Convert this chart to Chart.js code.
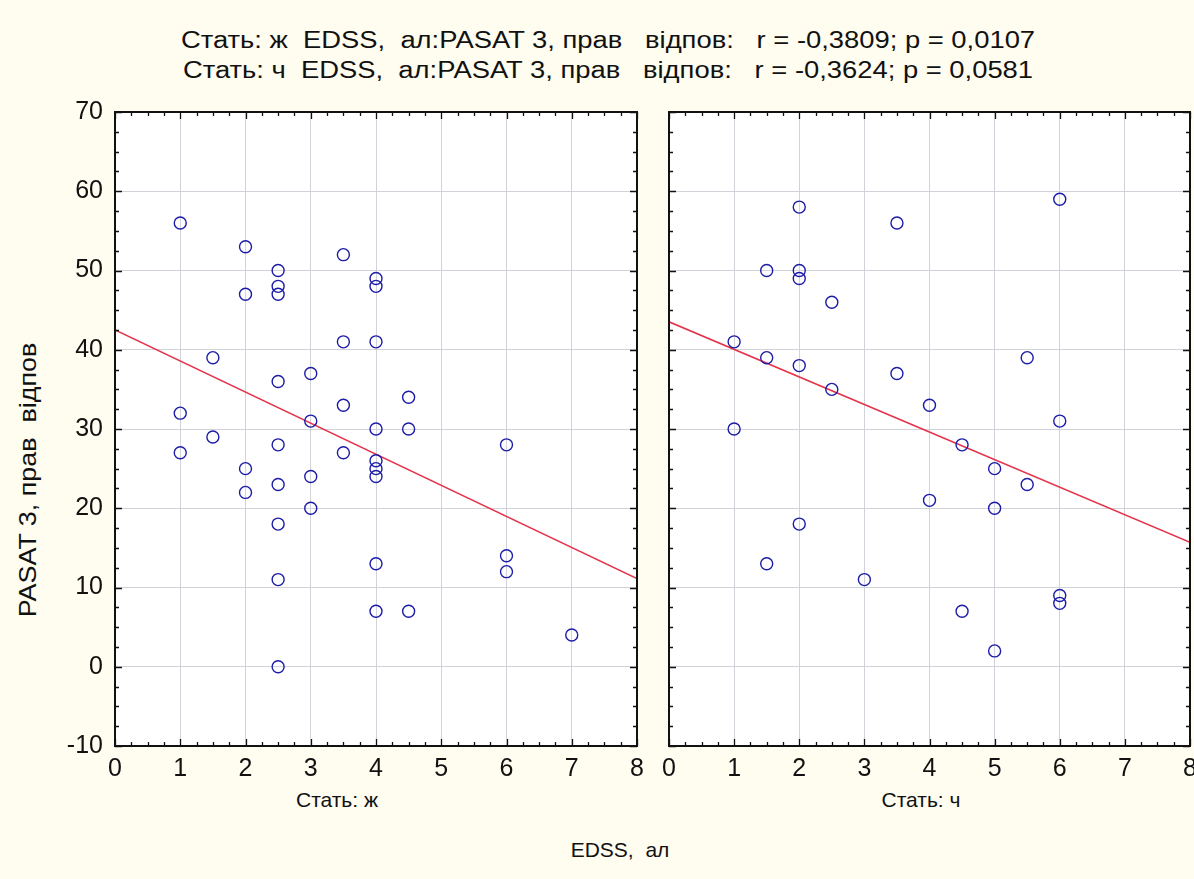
<!DOCTYPE html>
<html>
<head>
<meta charset="utf-8">
<script src="https://cdn.jsdelivr.net/npm/chart.js@4.4.0/dist/chart.umd.min.js"></script>
<style>
  body { margin: 0; width: 1194px; height: 879px; overflow: hidden; position: relative;
         background: #fffcf0; font-family: "Liberation Sans", Arial, sans-serif; color: #111; }
  .txt { position: absolute; white-space: pre; font-size: 21px; line-height: 24px; transform: translateX(-50%); }
  .head { font-size: 23px; line-height: 26px; transform: translateX(-50%) scaleX(1.19); }
  canvas { position: absolute; }
</style>
</head>
<body>
<div class="txt head" style="left:608px; top:27px;">Стать: ж  EDSS,  ал:PASAT 3, прав   відпов:   r = -0,3809; p = 0,0107</div>
<div class="txt head" style="left:608px; top:57px;">Стать: ч  EDSS,  ал:PASAT 3, прав   відпов:   r = -0,3624; p = 0,0581</div>
<div class="txt" style="left:337px; top:788px;">Стать: ж</div>
<div class="txt" style="left:921px; top:788px;">Стать: ч</div>
<div class="txt" style="left:620px; top:838px;">EDSS,  ал</div>
<div class="txt" style="left:28px; top:468px; font-size:23px; transform: translateX(-50%) rotate(-90deg) scaleX(1.17);">PASAT 3, прав  відпов</div>

<div style="position:absolute; left:0; top:100px; width:650px; height:700px;"><canvas id="left"></canvas></div>
<div style="position:absolute; left:655px; top:100px; width:560px; height:700px;"><canvas id="right"></canvas></div>

<script>
// EDSS score vs PASAT 3 correct answers, women (ж) and men (ч)
const edssF  = [1, 1, 1, 1.5, 1.5, 2, 2, 2, 2,
                2.5, 2.5, 2.5, 2.5, 2.5, 2.5, 2.5, 2.5, 2.5,
                3, 3, 3, 3, 3.5, 3.5, 3.5, 3.5,
                4, 4, 4, 4, 4, 4, 4, 4, 4,
                4.5, 4.5, 4.5, 6, 6, 6, 7];
const pasatF = [56, 32, 27, 39, 29, 53, 47, 25, 22,
                50, 48, 47, 36, 28, 23, 18, 11, 0,
                37, 31, 24, 20, 52, 41, 33, 27,
                49, 48, 41, 30, 26, 25, 24, 13, 7,
                34, 30, 7, 28, 14, 12, 4];

const edssM  = [1, 1, 1.5, 1.5, 1.5, 2, 2, 2, 2, 2,
                2.5, 2.5, 3, 3.5, 3.5, 4, 4, 4.5, 4.5,
                5, 5, 5, 5.5, 5.5, 6, 6, 6, 6];
const pasatM = [41, 30, 50, 39, 13, 58, 50, 49, 38, 18,
                46, 35, 11, 56, 37, 33, 21, 28, 7,
                25, 20, 2, 39, 23, 59, 31, 9, 8];

const xTicks = [0, 1, 2, 3, 4, 5, 6, 7, 8];
const yTicks = [-10, 0, 10, 20, 30, 40, 50, 60, 70];

// least squares line y = a + b*x
function fit(xs, ys) {
  const n = xs.length;
  const mx = xs.reduce((s, v) => s + v, 0) / n;
  const my = ys.reduce((s, v) => s + v, 0) / n;
  let sxy = 0, sxx = 0;
  for (let i = 0; i < n; i++) {
    sxy += (xs[i] - mx) * (ys[i] - my);
    sxx += (xs[i] - mx) * (xs[i] - mx);
  }
  const b = sxy / sxx;
  return { a: my - b * mx, b: b };
}

// white plot area, inward ticks on all four sides and black frame
const frame = {
  id: 'frame',
  beforeDraw(chart) {
    const { ctx, chartArea: a } = chart;
    ctx.save();
    ctx.fillStyle = '#ffffff';
    ctx.fillRect(a.left, a.top, a.width, a.height);
    ctx.restore();
  },
  afterDraw(chart) {
    const { ctx, chartArea: a, scales: { x, y } } = chart;
    ctx.save();
    ctx.strokeStyle = '#111';
    ctx.lineWidth = 1.3;
    ctx.beginPath();
    const x0 = xTicks[0], x1 = xTicks[xTicks.length - 1];
    for (let v = x0; v <= x1 + 1e-9; v += 0.25) {
      const px = Math.round(x.getPixelForValue(v)) + 0.5;
      const len = Math.abs(v - Math.round(v)) < 1e-9 ? 7 : 4;
      ctx.moveTo(px, a.bottom); ctx.lineTo(px, a.bottom - len);
      ctx.moveTo(px, a.top); ctx.lineTo(px, a.top + len);
    }
    const y0 = yTicks[0], y1 = yTicks[yTicks.length - 1];
    for (let v = y0; v <= y1 + 1e-9; v += 2.5) {
      const py = Math.round(y.getPixelForValue(v)) + 0.5;
      const len = Math.abs(v / 10 - Math.round(v / 10)) < 1e-9 ? 7 : 4;
      ctx.moveTo(a.left, py); ctx.lineTo(a.left + len, py);
      ctx.moveTo(a.right, py); ctx.lineTo(a.right - len, py);
    }
    ctx.stroke();
    ctx.lineWidth = 2;
    ctx.strokeRect(a.left, a.top, a.width, a.height);
    ctx.restore();
  }
};

// keep tick labels from pushing the plot area around
function noPad(s) {
  s.paddingTop = 0; s.paddingBottom = 0; s.paddingLeft = 0; s.paddingRight = 0;
}

function makeChart(id, xs, ys, showY, yWidth, padRight) {
  const f = fit(xs, ys);
  const x0 = xTicks[0], x1 = xTicks[xTicks.length - 1];
  const pts = xs.map((v, i) => ({ x: v, y: ys[i] }));
  const tickFont = { family: 'Liberation Sans', size: 25, lineHeight: 1 };
  return new Chart(document.getElementById(id), {
    type: 'scatter',
    data: {
      datasets: [{
        data: pts,
        pointStyle: 'circle',
        pointRadius: 6,
        pointHoverRadius: 6,
        borderColor: '#1c1ca8',
        backgroundColor: 'rgba(0,0,0,0)',
        borderWidth: 1.4
      }, {
        type: 'line',
        data: [{ x: x0, y: f.a + f.b * x0 }, { x: x1, y: f.a + f.b * x1 }],
        borderColor: '#e4344c',
        borderWidth: 1.6,
        pointRadius: 0,
        fill: false
      }]
    },
    options: {
      responsive: true,
      maintainAspectRatio: false,
      animation: false,
      events: [],
      layout: { padding: { top: 12, right: padRight, left: 0, bottom: 0 } },
      plugins: { legend: { display: false }, tooltip: { enabled: false } },
      scales: {
        x: {
          type: 'linear', min: x0, max: x1,
          afterBuildTicks: s => { s.ticks = xTicks.map(v => ({ value: v })); },
          afterFit: s => { s.height = 54; noPad(s); },
          grid: { color: '#d2d2da', lineWidth: 1, drawTicks: false },
          border: { display: false },
          ticks: { color: '#111', padding: 11, font: tickFont }
        },
        y: {
          type: 'linear', min: yTicks[0], max: yTicks[yTicks.length - 1],
          afterBuildTicks: s => { s.ticks = yTicks.map(v => ({ value: v })); },
          afterFit: s => { s.width = yWidth; noPad(s); },
          grid: { color: '#d2d2da', lineWidth: 1, drawTicks: false },
          border: { display: false },
          ticks: { display: showY, color: '#111', padding: 12, font: tickFont }
        }
      }
    },
    plugins: [frame]
  });
}

makeChart('left', edssF, pasatF, true, 115, 13);
makeChart('right', edssM, pasatM, false, 14, 25);
</script>
</body>
</html>
